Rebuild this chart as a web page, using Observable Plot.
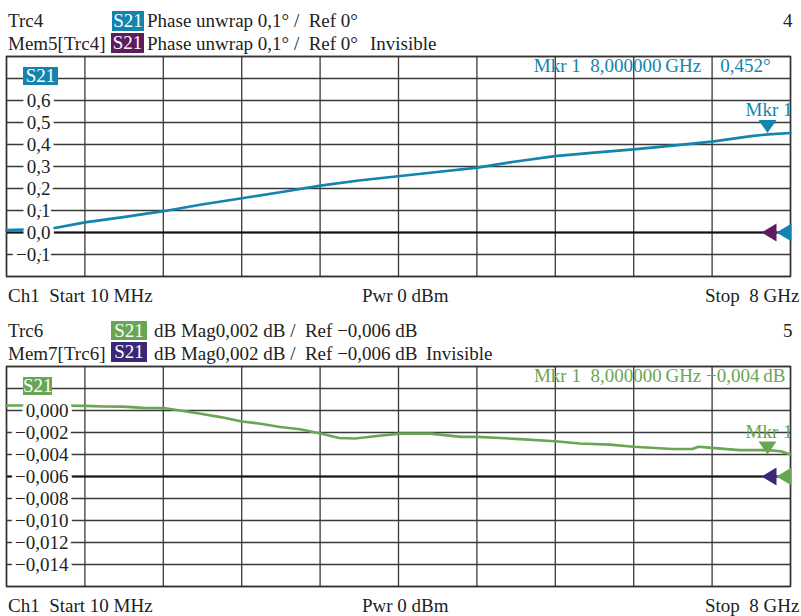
<!DOCTYPE html>
<html>
<head>
<meta charset="utf-8">
<script src="https://cdn.jsdelivr.net/npm/d3@7"></script>
<script src="https://cdn.jsdelivr.net/npm/@observablehq/plot@0.6"></script>
<style>
  body { margin: 0; background: #fff; }
  #vna { position: relative; width: 801px; height: 616px; overflow: hidden;
         font-family: "Liberation Serif", serif; font-size: 19px; color: #222; }
  .t { position: absolute; white-space: pre; line-height: 19px; }
  .tag { position: absolute; color: #fff; text-align: center; line-height: 19px; }
  .panel { position: absolute; left: 0; }
</style>
</head>
<body>
<div id="vna"></div>
<script>
// ---- sweep setup ----
const startGHz = 0.01;
const stopGHz = 8;
const gridFreqs = [0.01, 0.809, 1.608, 2.407, 3.206, 4.005, 4.804, 5.603, 6.402, 7.201, 8];

// ---- Trc4: S21 phase unwrap (deg) ----
const phaseFreq = [0.01, 0.46, 0.81, 1.2, 1.61, 2.0, 2.41, 2.8, 3.21, 3.6, 4.0, 4.4, 4.81, 5.2, 5.6, 6.0, 6.4, 6.8, 7.2, 7.6, 7.77, 8.0];
const phaseDeg  = [0.011, 0.017, 0.046, 0.070, 0.097, 0.127, 0.156, 0.183, 0.213, 0.236, 0.256, 0.275, 0.295, 0.323, 0.347, 0.363, 0.378, 0.395, 0.413, 0.438, 0.446, 0.452];
const phaseGridY = [-0.2, -0.1, 0, 0.1, 0.2, 0.3, 0.4, 0.5, 0.6, 0.7, 0.8];
const phaseTickValues = [0.6, 0.5, 0.4, 0.3, 0.2, 0.1, 0, -0.1];
const phaseTickLabels = ["0,6", "0,5", "0,4", "0,3", "0,2", "0,1", "0,0", "\u22120,1"];
const phaseRef = 0;
const phaseMarker = {f: 8, v: 0.452, label: "Mkr 1  8,000000\u2009GHz    0,452\u00b0"};

// ---- Trc6: S21 dB magnitude ----
const magFreq = [0.01, 0.46, 0.81, 1.0, 1.2, 1.4, 1.61, 1.78, 1.99, 2.19, 2.41, 2.6, 2.8, 3.0, 3.21, 3.4, 3.56, 3.81, 4.02, 4.33, 4.64, 4.81, 5.04, 5.24, 5.6, 5.85, 6.16, 6.4, 6.8, 7.0, 7.06, 7.2, 7.48, 7.77, 7.9, 8.0];
const magDb   = [0.00045, 0.00045, 0.00042, 0.00036, 0.00035, 0.00024, 0.00022, 0.0, -0.0003, -0.0006, -0.0010, -0.0012, -0.0015, -0.0017, -0.0021, -0.0025, -0.00255, -0.0023, -0.0021, -0.0021, -0.0024, -0.0024, -0.0025, -0.0026, -0.0028, -0.0030, -0.0031, -0.0033, -0.0035, -0.0035, -0.0033, -0.0034, -0.0036, -0.0036, -0.0037, -0.0040];
const magGridY = [-0.016, -0.014, -0.012, -0.010, -0.008, -0.006, -0.004, -0.002, 0, 0.002, 0.004];
const magTickValues = [0, -0.002, -0.004, -0.006, -0.008, -0.010, -0.012, -0.014];
const magTickLabels = ["0,000", "\u22120,002", "\u22120,004", "\u22120,006", "\u22120,008", "\u22120,010", "\u22120,012", "\u22120,014"];
const magRef = -0.006;
const magMarker = {f: 8, v: -0.004, label: "Mkr 1  8,000000\u2009GHz \u22120,004\u2009dB"};

// ---- colours ----
const blue = "#1284ad", purple = "#5e1b5d", green = "#69a653", indigo = "#3b2777";

// marker glyphs with the tip at the origin
const tipDown = {draw(ctx) { ctx.moveTo(-9, -13); ctx.lineTo(9, -13); ctx.lineTo(0, 0); ctx.closePath(); }};
const tipLeft = {draw(ctx) { ctx.moveTo(0, 0); ctx.lineTo(15, -9); ctx.lineTo(15, 9); ctx.closePath(); }};

function panel({freq, vals, gridY, tickValues, tickLabels, ref, marker, color, memColor, labelDx, mkrDy, mkrDx}) {
  const pts = freq.map((f, i) => ({f, v: vals[i]}));
  const yDomain = [gridY[0], gridY[gridY.length - 1]];
  return Plot.plot({
    width: 801, height: 236,
    marginLeft: 6, marginRight: 11, marginTop: 6, marginBottom: 10,
    x: {domain: [startGHz, stopGHz], axis: null},
    y: {domain: yDomain, axis: null},
    style: {fontFamily: "Liberation Serif, serif", fontSize: "19px", background: "transparent", overflow: "visible"},
    marks: [
      Plot.ruleX(gridFreqs, {stroke: "#3a3a3a", strokeWidth: 1.3}),
      Plot.ruleY(gridY, {stroke: "#3a3a3a", strokeWidth: 1.3}),
      Plot.ruleY([ref], {stroke: "#111", strokeWidth: 2.2}),
      Plot.frame({stroke: "#333", strokeWidth: 1.5}),
      Plot.line(pts, {x: "f", y: "v", stroke: color, strokeWidth: 2.6}),
      Plot.text(tickValues, {frameAnchor: "left", y: d => d, text: (d, i) => tickLabels[i],
        textAnchor: "end", dx: labelDx, fill: "#222", stroke: "white", strokeWidth: 8}),
      Plot.text([marker], {frameAnchor: "top-right", text: d => d.label, textAnchor: "end",
        lineAnchor: "top", dx: mkrDx, dy: mkrDy, fill: color}),
      Plot.text([marker], {x: "f", y: "v", text: () => "Mkr 1", textAnchor: "start",
        dx: -45, dy: -23, fill: color, clip: true}),
      Plot.dot([marker], {x: "f", y: "v", symbol: tipDown, fill: color, stroke: "none", dx: -23}),
      Plot.dot([ref], {x: () => stopGHz, y: d => d, symbol: tipLeft, fill: memColor, stroke: "none", dx: -29}),
      Plot.dot([ref], {x: () => stopGHz, y: d => d, symbol: tipLeft, fill: color, stroke: "none", dx: -14})
    ]
  });
}

const root = document.getElementById("vna");
function txt(s, left, top, color) {
  const d = document.createElement("div");
  d.className = "t"; d.textContent = s;
  d.style.left = left + "px"; d.style.top = top + "px";
  if (color) d.style.color = color;
  root.appendChild(d);
}
function tag(s, left, top, w, h, bg) {
  const d = document.createElement("div");
  d.className = "tag"; d.textContent = s;
  Object.assign(d.style, {left: left + "px", top: top + "px", width: w + "px", height: h + "px",
    background: bg, lineHeight: h + "px"});
  root.appendChild(d);
}
function place(svg, top) {
  svg.classList.add("panel");
  svg.style.top = top + "px";
  root.appendChild(svg);
}

// ---- phase panel ----
place(panel({freq: phaseFreq, vals: phaseDeg, gridY: phaseGridY, tickValues: phaseTickValues,
  tickLabels: phaseTickLabels, ref: phaseRef, marker: phaseMarker, color: blue, memColor: purple,
  labelDx: 44, mkrDx: -20, mkrDy: 2}), 50);
txt("Trc4", 8, 11);
tag("S21", 112, 11, 32, 20, blue);
txt("Phase unwrap 0,1\u00b0 /  Ref 0\u00b0", 147, 11);
txt("4", 783, 11);
txt("Mem5[Trc4]", 8, 34);
tag("S21", 111, 33, 33, 20, purple);
txt("Phase unwrap 0,1\u00b0 /  Ref 0\u00b0", 147, 34);
txt("Invisible", 370, 34);
tag("S21", 23, 67, 35, 18, blue);
txt("Ch1  Start 10 MHz", 8, 286);
txt("Pwr 0 dBm", 362, 286);
txt("Stop  8 GHz", 705, 286);

// ---- magnitude panel ----
place(panel({freq: magFreq, vals: magDb, gridY: magGridY, tickValues: magTickValues,
  tickLabels: magTickLabels, ref: magRef, marker: magMarker, color: green, memColor: indigo,
  labelDx: 62, mkrDx: -5, mkrDy: 2}), 360);
txt("Trc6", 8, 321);
tag("S21", 111, 321, 36, 19, green);
txt("dB Mag0,002 dB /  Ref \u22120,006 dB", 154, 321);
txt("5", 783, 321);
txt("Mem7[Trc6]", 8, 344);
tag("S21", 111, 342, 36, 20, indigo);
txt("dB Mag0,002 dB /  Ref \u22120,006 dB", 154, 344);
txt("Invisible", 426, 344);
tag("S21", 23, 377, 29, 18, green);
txt("Ch1  Start 10 MHz", 8, 596);
txt("Pwr 0 dBm", 362, 596);
txt("Stop  8 GHz", 705, 596);
</script>
</body>
</html>
